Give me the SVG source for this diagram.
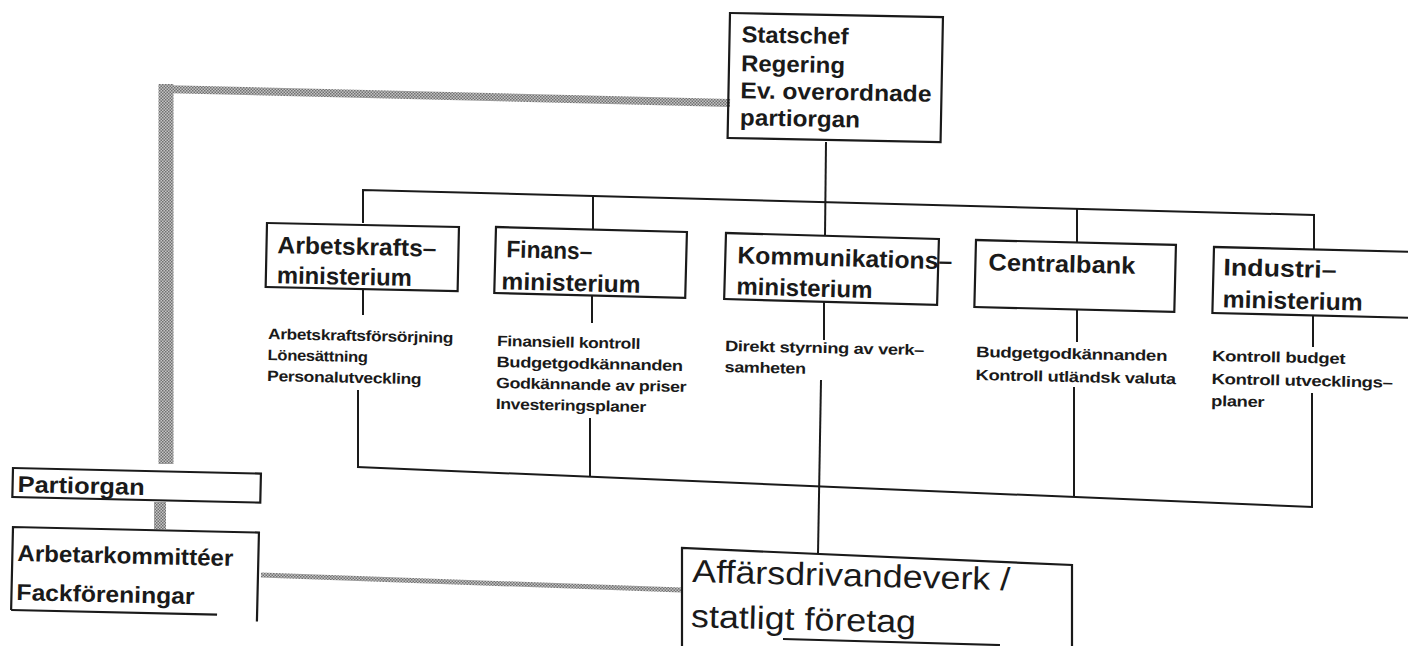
<svg xmlns="http://www.w3.org/2000/svg" width="1408" height="646" viewBox="0 0 1408 646">
<style>
.box{fill:none;stroke:#1a1a1a;stroke-width:2.2}
.lbl{font-family:"Liberation Sans",Arial,sans-serif;font-weight:bold;font-size:24px;fill:#1a1a1a}
.top{font-family:"Liberation Sans",Arial,sans-serif;font-weight:bold;font-size:23px;fill:#1a1a1a}
.desc{font-family:"Liberation Sans",Arial,sans-serif;font-weight:bold;font-size:15px;fill:#1a1a1a;letter-spacing:-0.3px}
.big{font-family:"Liberation Sans",Arial,sans-serif;font-size:32px;fill:#1a1a1a}
.ln{fill:none;stroke:#1a1a1a;stroke-width:2}
.gray{fill:none;stroke:url(#hatch)}
</style>
<defs>
<pattern id="hatch" width="3" height="3" patternUnits="userSpaceOnUse">
<rect width="3" height="3" fill="#c4c4c4"/>
<rect width="1.5" height="1.5" fill="#707070"/>
<rect x="1.5" y="1.5" width="1.5" height="1.5" fill="#707070"/>
</pattern>
</defs>
<rect width="1408" height="646" fill="#ffffff"/>

<g id="connectors">
<polyline class="ln" points="363,223 363,190 1314,215 1314,249"/>
<line class="ln" x1="826" y1="142" x2="825" y2="236"/>
<line class="ln" x1="593" y1="196" x2="593" y2="230"/>
<line class="ln" x1="1077" y1="209" x2="1077" y2="243"/>
<line class="ln" x1="363" y1="289" x2="363" y2="315"/>
<line class="ln" x1="592" y1="296" x2="592" y2="323"/>
<line class="ln" x1="824" y1="302" x2="824" y2="340"/>
<line class="ln" x1="1077" y1="310" x2="1077" y2="342"/>
<line class="ln" x1="1313" y1="316" x2="1313" y2="347"/>
<line class="ln" x1="358" y1="390" x2="358" y2="467"/>
<line class="ln" x1="590" y1="418" x2="590" y2="477"/>
<line class="ln" x1="1074" y1="387" x2="1074" y2="497"/>
<line class="ln" x1="1312" y1="393" x2="1312" y2="507"/>
<line class="ln" x1="357" y1="467" x2="1313" y2="507"/>
<line class="ln" x1="821" y1="380" x2="818" y2="554"/>
<line class="gray" x1="166" y1="84" x2="166" y2="464" stroke-width="15"/>
<line class="gray" x1="160" y1="89" x2="730" y2="103" stroke-width="8"/>
<line class="gray" x1="160" y1="502" x2="160" y2="529" stroke-width="12"/>
<line class="gray" x1="261" y1="575" x2="681" y2="590" stroke-width="5"/>
</g>

<g id="statschef" transform="rotate(1.1 730 13)">
<rect class="box" x="730" y="13" width="213" height="125"/>
<text class="top" x="742" y="42" textLength="107" lengthAdjust="spacingAndGlyphs">Statschef</text>
<text class="top" x="742" y="71" textLength="104" lengthAdjust="spacingAndGlyphs">Regering</text>
<text class="top" x="742" y="98" textLength="191" lengthAdjust="spacingAndGlyphs">Ev. overordnade</text>
<text class="top" x="742" y="125" textLength="120" lengthAdjust="spacingAndGlyphs">partiorgan</text>
</g>

<g id="arbetskrafts">
<g transform="rotate(1.2 267 223)">
<rect class="box" x="267" y="223" width="192" height="64"/>
<text class="lbl" x="278" y="253" textLength="159" lengthAdjust="spacingAndGlyphs">Arbetskrafts–</text>
<text class="lbl" x="278" y="283" textLength="135" lengthAdjust="spacingAndGlyphs">ministerium</text>
</g>
<g transform="rotate(1.2 268 339)">
<text class="desc" x="268" y="339" textLength="185" lengthAdjust="spacingAndGlyphs">Arbetskraftsförsörjning</text>
<text class="desc" x="268" y="360" textLength="100" lengthAdjust="spacingAndGlyphs">Lönesättning</text>
<text class="desc" x="268" y="381" textLength="154" lengthAdjust="spacingAndGlyphs">Personalutveckling</text>
</g>
</g>

<g id="finans">
<g transform="rotate(1.5 496 227)">
<rect class="box" x="496" y="227" width="191" height="66"/>
<text class="lbl" x="507" y="257" textLength="86" lengthAdjust="spacingAndGlyphs">Finans–</text>
<text class="lbl" x="503" y="289" textLength="139" lengthAdjust="spacingAndGlyphs">ministerium</text>
</g>
<g transform="rotate(1.2 497 346)">
<text class="desc" x="497" y="346" textLength="143" lengthAdjust="spacingAndGlyphs">Finansiell kontroll</text>
<text class="desc" x="497" y="367" textLength="186" lengthAdjust="spacingAndGlyphs">Budgetgodkännanden</text>
<text class="desc" x="497" y="388" textLength="190" lengthAdjust="spacingAndGlyphs">Godkännande av priser</text>
<text class="desc" x="497" y="409" textLength="150" lengthAdjust="spacingAndGlyphs">Investeringsplaner</text>
</g>
</g>

<g id="kommunikations">
<g transform="rotate(1.6 726 233)">
<rect class="box" x="726" y="233" width="213" height="66"/>
<text class="lbl" x="738" y="263" textLength="215" lengthAdjust="spacingAndGlyphs">Kommunikations–</text>
<text class="lbl" x="738" y="294" textLength="136" lengthAdjust="spacingAndGlyphs">ministerium</text>
</g>
<g transform="rotate(1.2 725 351)">
<text class="desc" x="725" y="351" textLength="199" lengthAdjust="spacingAndGlyphs">Direkt styrning av verk–</text>
<text class="desc" x="725" y="372" textLength="81" lengthAdjust="spacingAndGlyphs">samheten</text>
</g>
</g>

<g id="centralbank">
<g transform="rotate(1.4 976 240)">
<rect class="box" x="976" y="240" width="200" height="67"/>
<text class="lbl" x="989" y="270" textLength="147" lengthAdjust="spacingAndGlyphs">Centralbank</text>
</g>
<g transform="rotate(1.2 976 357)">
<text class="desc" x="976" y="357" textLength="191" lengthAdjust="spacingAndGlyphs">Budgetgodkännanden</text>
<text class="desc" x="976" y="380" textLength="200" lengthAdjust="spacingAndGlyphs">Kontroll utländsk valuta</text>
</g>
</g>

<g id="industri">
<g transform="rotate(1.4 1214 247)">
<rect class="box" x="1214" y="247" width="210" height="66"/>
<text class="lbl" x="1224" y="275" textLength="113" lengthAdjust="spacingAndGlyphs">Industri–</text>
<text class="lbl" x="1224" y="307" textLength="140" lengthAdjust="spacingAndGlyphs">ministerium</text>
</g>
<g transform="rotate(1.2 1212 361)">
<text class="desc" x="1212" y="361" textLength="133" lengthAdjust="spacingAndGlyphs">Kontroll budget</text>
<text class="desc" x="1212" y="384" textLength="181" lengthAdjust="spacingAndGlyphs">Kontroll utvecklings–</text>
<text class="desc" x="1212" y="406" textLength="53" lengthAdjust="spacingAndGlyphs">planer</text>
</g>
</g>

<g id="partiorgan" transform="rotate(1.3 13 468)">
<rect class="box" x="13" y="468" width="248" height="29"/>
<text class="top" x="18" y="492" textLength="127" lengthAdjust="spacingAndGlyphs">Partiorgan</text>
</g>

<g id="arbetarkommitteer" transform="rotate(1.3 13 527)">
<path class="box" d="M13,610 L13,527 L259,527 L259,616"/>
<line class="box" x1="13" y1="610" x2="219" y2="610"/>
<text class="top" x="18" y="561" textLength="216" lengthAdjust="spacingAndGlyphs">Arbetarkommittéer</text>
<text class="top" x="18" y="600" textLength="178" lengthAdjust="spacingAndGlyphs">Fackföreningar</text>
</g>

<g id="affarsverk">
<path class="box" d="M682,648 L682,548 L1072,565 L1072,648"/>
<line class="box" x1="783" y1="639" x2="1000" y2="645"/>
<g transform="rotate(1.5 692 582)">
<text class="big" x="692" y="582" textLength="318" lengthAdjust="spacingAndGlyphs">Affärsdrivandeverk /</text>
<text class="big" x="692" y="627" textLength="225" lengthAdjust="spacingAndGlyphs">statligt företag</text>
</g>
</g>
</svg>
